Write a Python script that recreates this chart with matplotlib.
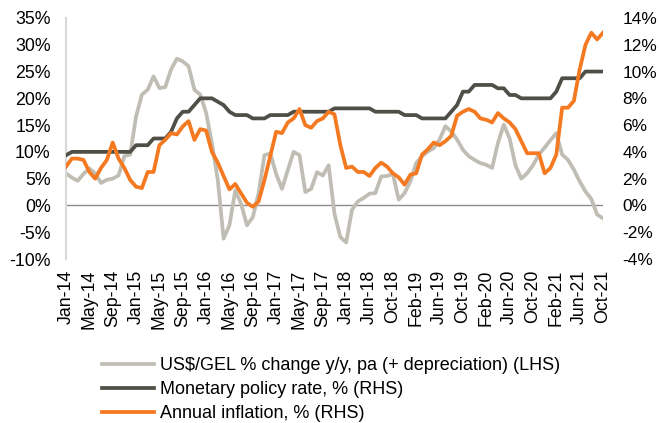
import numpy as np
import matplotlib
matplotlib.use("Agg")
from matplotlib import pyplot as plt

plt.rcParams['font.family'] = ['Liberation Sans', 'DejaVu Sans']

# monthly observations, Jan-14 .. Oct-21
gel_change = [6.0, 5.2, 4.6, 5.9, 6.9, 6.0, 4.2, 4.8, 5.0, 5.6,
              9.2, 9.5, 16.6, 20.7, 21.6, 24.1, 21.9, 22.1, 25.4, 27.4,
              26.9, 26.0, 21.6, 20.7, 17.3, 11.6, 4.8, -6.2, -3.7, 2.8,
              0.3, -3.7, -2.2, 2.3, 9.4, 9.7, 5.9, 3.1, 6.6, 10.0,
              9.4, 2.5, 3.1, 6.2, 5.6, 7.5, -1.6, -5.9, -6.9, -0.8,
              0.75, 1.4, 2.2, 2.3, 5.4, 5.5, 5.9, 1.1, 2.3, 4.5,
              7.9, 9.2, 10.1, 10.7, 12.3, 14.8, 13.8, 12.3, 10.4, 9.2,
              8.5, 7.9, 7.6, 7.0, 11.65, 15.1, 12.5, 7.5, 5.0, 6.0,
              7.5, 9.5, 10.8, 12.2, 13.5, 9.5, 8.5, 6.7, 4.5, 2.6,
              1.2, -1.7, -2.4]

policy_rate = [3.75, 4.0, 4.0, 4.0, 4.0, 4.0, 4.0, 4.0, 4.0, 4.0,
               4.0, 4.0, 4.5, 4.5, 4.5, 5.0, 5.0, 5.0, 5.5, 6.5,
               7.0, 7.0, 7.5, 8.0, 8.0, 8.0, 7.75, 7.5, 7.0, 6.75,
               6.75, 6.75, 6.5, 6.5, 6.5, 6.75, 6.75, 6.75, 6.75, 7.0,
               7.0, 7.0, 7.0, 7.0, 7.0, 7.0, 7.25, 7.25, 7.25, 7.25,
               7.25, 7.25, 7.25, 7.0, 7.0, 7.0, 7.0, 7.0, 6.75, 6.75,
               6.75, 6.5, 6.5, 6.5, 6.5, 6.5, 7.0, 7.5, 8.5, 8.5,
               9.0, 9.0, 9.0, 9.0, 8.75, 8.75, 8.25, 8.25, 8.0, 8.0,
               8.0, 8.0, 8.0, 8.0, 8.5, 9.5, 9.5, 9.5, 9.5, 10.0,
               10.0, 10.0, 10.0]

inflation = [2.9, 3.5, 3.5, 3.4, 2.5, 2.0, 2.8, 3.4, 4.7, 3.5,
             2.8, 1.9, 1.4, 1.3, 2.5, 2.5, 4.5, 4.9, 5.4, 5.3,
             5.9, 6.3, 4.9, 5.7, 5.6, 4.0, 3.2, 2.2, 1.2, 1.6,
             0.9, 0.2, -0.1, 0.3, 1.9, 3.7, 5.5, 5.4, 6.2, 6.5,
             7.2, 6.0, 5.8, 6.3, 6.5, 7.0, 6.8, 4.5, 2.8, 2.9,
             2.5, 2.5, 2.2, 2.8, 3.2, 2.9, 2.4, 2.1, 1.55, 2.3,
             2.4, 3.8, 4.2, 4.7, 4.5, 4.8, 5.2, 6.7, 7.0, 7.2,
             7.0, 6.5, 6.4, 6.2, 6.9, 6.5, 6.2, 5.7, 4.8, 3.9,
             3.9, 3.9, 2.4, 2.8, 3.8, 7.3, 7.3, 7.8, 10.15, 12.0,
             12.9, 12.4, 12.9]

tick_labels = ["Jan-14", "May-14", "Sep-14", "Jan-15", "May-15", "Sep-15",
               "Jan-16", "May-16", "Sep-16", "Jan-17", "May-17", "Sep-17",
               "Jan-18", "Jun-18", "Oct-18", "Feb-19", "Jun-19", "Oct-19",
               "Feb-20", "Jun-20", "Oct-20", "Feb-21", "Jun-21", "Oct-21"]

x = np.arange(len(gel_change))

fig = plt.figure(figsize=(6.59, 4.23), dpi=100)
ax = fig.add_axes([66 / 659, 1 - 259 / 423, (603 - 66) / 659, (259 - 18) / 423])
ax2 = ax.twinx()

l1, = ax.plot(x, gel_change, color="#c0bdb4", lw=2.7,
              label="US$/GEL % change y/y, pa (+ depreciation) (LHS)")
l2, = ax2.plot(x, policy_rate, color="#4f4f47", lw=2.7,
               label="Monetary policy rate, % (RHS)")
l3, = ax2.plot(x, inflation, color="#f47920", lw=2.7,
               label="Annual inflation, % (RHS)")

ax.axhline(0, color="#8c8c8c", lw=1.0, zorder=0)

ax.set_xlim(0, len(x) - 1)
ax.set_ylim(-10, 35)
ax2.set_ylim(-4, 14)
ax.set_yticks(np.arange(-10, 36, 5))
ax.set_yticklabels([f"{v}%" for v in range(-10, 36, 5)])
ax2.set_yticks(np.arange(-4, 15, 2))
ax2.set_yticklabels([f"{v}%" for v in range(-4, 15, 2)])
ax.set_xticks(x[::4])
ax.set_xticklabels(tick_labels, rotation=90)

for a in (ax, ax2):
    for s in a.spines.values():
        s.set_visible(False)
    a.tick_params(length=0, labelsize=12.8, colors="#000000")
ax.spines["left"].set_visible(True)
ax.spines["left"].set_color("#d9d9d9")
ax.spines["left"].set_linewidth(1.5)
ax.tick_params(axis="y", pad=11)
ax2.tick_params(axis="y", pad=14, labelsize=12.4)
ax.tick_params(axis="x", pad=8)

fig.legend(handles=[l1, l2, l3], loc="upper left", bbox_to_anchor=(102 / 659, 1 - 357 / 423),
           frameon=False, fontsize=13, handlelength=2.9, handletextpad=0.3,
           labelspacing=0.4, borderpad=0, borderaxespad=0)

fig.savefig("out.png", dpi=100)
